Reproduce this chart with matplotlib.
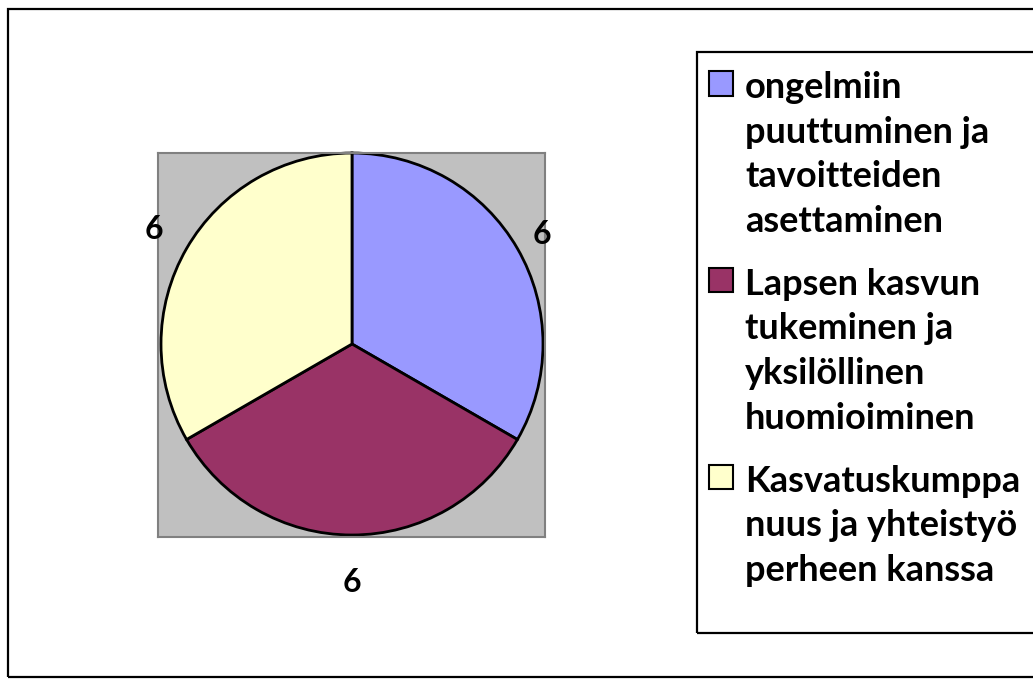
import matplotlib
matplotlib.use("Agg")
import matplotlib.pyplot as plt
from matplotlib.patches import Patch, Rectangle
import numpy as np

# ---- data ----
categories = [
    "ongelmiin\npuuttuminen ja\ntavoitteiden\nasettaminen",
    "Lapsen kasvun\ntukeminen ja\nyksilöllinen\nhuomioiminen",
    "Kasvatuskumppa\nnuus ja yhteistyö\nperheen kanssa",
]
values = [6, 6, 6]
colors = ["#9999FF", "#993366", "#FFFFCC"]

plt.rcParams['font.family'] = ['Lato', 'DejaVu Sans']
W, H = 1033, 679
fig = plt.figure(figsize=(W / 100, H / 100), dpi=100)
fig.patch.set_facecolor("white")

def fx(px):
    return px / W

def fy(py):
    return 1 - py / H

# outer chart frame
fig.patches.append(Rectangle((fx(8), fy(677)), fx(1045) - fx(8), fy(9) - fy(677),
                             transform=fig.transFigure, fill=False,
                             edgecolor="black", linewidth=1.6, zorder=0))

# plot area (gray square)
ax = fig.add_axes([fx(158), fy(537), fx(545) - fx(158), fy(153) - fy(537)])
ax.set_facecolor("#C0C0C0")
for s in ax.spines.values():
    s.set_color("#808080")
    s.set_linewidth(1.5)

R = 191
wedges, texts = ax.pie(values, colors=colors, startangle=90, counterclock=False,
                       radius=R, center=(0, 0),
                       wedgeprops=dict(edgecolor="black", linewidth=2),
                       labels=[str(v) for v in values], labeldistance=1.2,
                       textprops=dict(fontsize=23, fontweight="bold", color="black"),
                       frame=True)
dists = [1.15, 1.25, 1.20]
for w, t, d in zip(wedges, texts, dists):
    th = np.deg2rad((w.theta1 + w.theta2) / 2)
    t.set_position((d * R * np.cos(th), d * R * np.sin(th)))
    t.set_ha("center")
    t.set_va("center")

ax.set_aspect("auto")
ax.set_xlim(158 - 352, 545 - 352)
ax.set_ylim(-(537 - 344), 344 - 153)
ax.set_xticks([])
ax.set_yticks([])

# legend frame
fig.patches.append(Rectangle((fx(697), fy(633)), fx(1045) - fx(697), fy(52) - fy(633),
                             transform=fig.transFigure, fill=False,
                             edgecolor="black", linewidth=1.6, zorder=0))

handles = [Patch(facecolor=c, edgecolor="black", linewidth=1.5) for c in colors]
leg = fig.legend(handles, categories, loc="upper left",
                 bbox_to_anchor=(fx(709), fy(71)), borderaxespad=0, borderpad=0,
                 frameon=False, prop=dict(size=26, weight="bold"),
                 handlelength=0.67, handleheight=0.67, handletextpad=0.33,
                 labelspacing=0.83)
for t in leg.get_texts():
    t.set_linespacing(1.43)
for col in leg._legend_handle_box.get_children():
    for row in col.get_children():
        row.align = "top"

fig.savefig("out.png", dpi=100, facecolor="white")
